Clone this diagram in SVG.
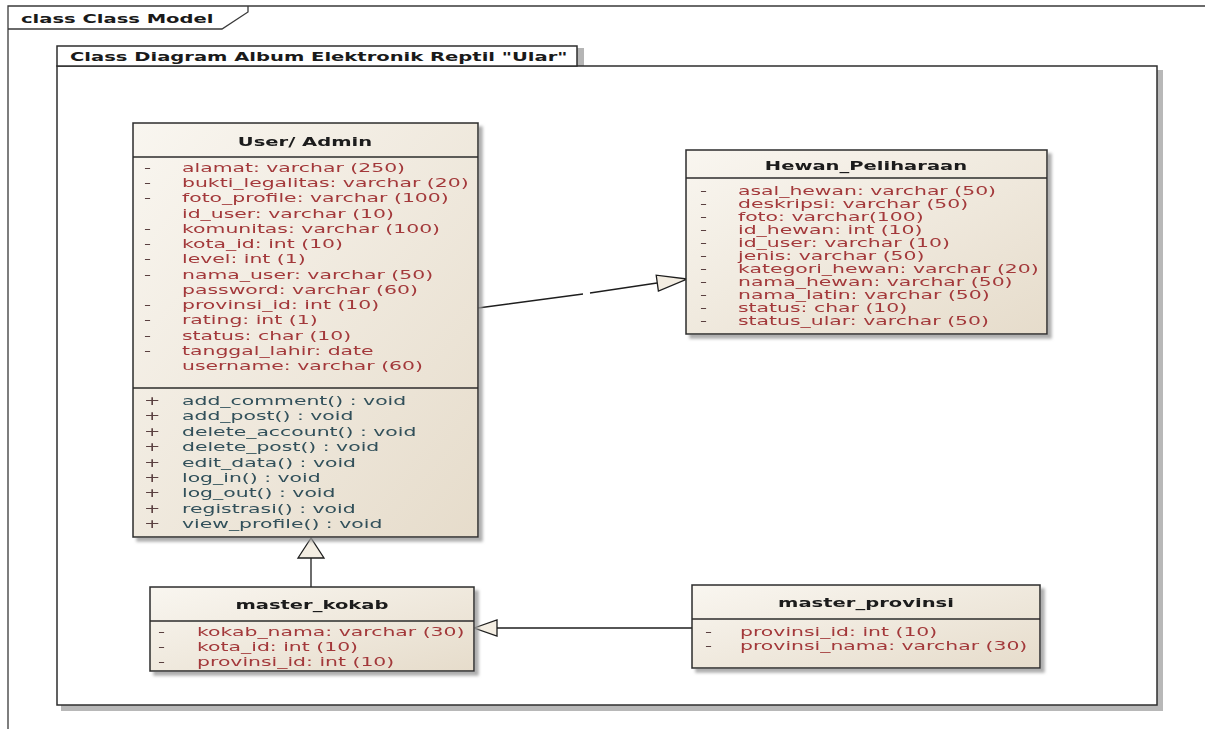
<svg xmlns="http://www.w3.org/2000/svg" width="1205" height="729" viewBox="0 0 1205 729">
<defs>
<linearGradient id="cls" x1="0" y1="0" x2="1" y2="1">
<stop offset="0" stop-color="#f9f6f0"/>
<stop offset="1" stop-color="#e6dccb"/>
</linearGradient>
<filter id="sh" x="-5%" y="-5%" width="115%" height="115%">
<feOffset dx="4" dy="4" in="SourceAlpha" result="o"/>
<feGaussianBlur in="o" stdDeviation="1.5" result="b"/>
<feFlood flood-color="#9a9a9a" flood-opacity="0.8"/>
<feComposite in2="b" operator="in" result="s"/>
<feMerge><feMergeNode in="s"/><feMergeNode in="SourceGraphic"/></feMerge>
</filter>
</defs>
<style>
.box{fill:url(#cls);stroke:#2b2b2b;stroke-width:1.5}
.sep{stroke:#2b2b2b;stroke-width:1.3}
.ttl{font-family:"DejaVu Sans",sans-serif;font-weight:bold;font-size:11.5px;fill:#1a1a1a}
.at{font-family:"DejaVu Sans",sans-serif;font-size:12px;fill:#a3393a}
.op{font-family:"DejaVu Sans",sans-serif;font-size:12px;fill:#30505a}
.mk{font-family:"DejaVu Sans",sans-serif;font-size:11.5px;fill:#5a4040}
.frm{fill:none;stroke:#3a3a3a;stroke-width:1.3}
.ln{fill:none;stroke:#1e1e1e;stroke-width:1.3}
.tri{fill:#f3ede2;stroke:#1e1e1e;stroke-width:1.3}
</style>
<rect width="1205" height="729" fill="#ffffff"/>

<g id="frame-outer">
<path class="frm" d="M8,729 L8,6 L1205,6"/>
<path class="frm" d="M8,29 L222,29 L248,12 L248,6"/>
<g transform="scale(1.7 1)"><text class="ttl" x="12.35" y="23">class Class Model</text></g>
</g>

<g id="frame-inner">
<rect x="577" y="48" width="7" height="18" fill="#b5b5b5"/>
<rect x="1157" y="70" width="6" height="641" fill="#b8b8b8"/>
<rect x="61" y="705" width="1102" height="6" fill="#b8b8b8"/>
<rect x="57" y="66" width="1100" height="639" fill="#ffffff" stroke="#2e2e2e" stroke-width="1.5"/>
<rect x="57" y="46" width="520" height="20" fill="#ffffff" stroke="#2e2e2e" stroke-width="1.5"/>
<g transform="scale(1.7 1)"><text class="ttl" x="41.2" y="61">Class Diagram Album Elektronik Reptil "Ular"</text></g>
</g>

<g id="connectors">
<path class="ln" d="M478,308 L583,294 M590,293 L657,283"/>
<polygon class="tri" points="687,279 656.2,275.2 658.4,291"/>
<path class="ln" d="M311,587 L311,558"/>
<polygon class="tri" points="311,538 298,558 324,558"/>
<path class="ln" d="M692,628 L497,628"/>
<polygon class="tri" points="474,628 497,620 497,636"/>
</g>

<g id="user-admin" filter="url(#sh)">
<rect class="box" x="133" y="123" width="345" height="414"/>
<line class="sep" x1="133" y1="157" x2="478" y2="157"/>
<line class="sep" x1="133" y1="388" x2="478" y2="388"/>
<g transform="scale(1.7 1)">
<text class="ttl" x="179.4" y="146" text-anchor="middle">User/ Admin</text>
<g class="mk">
<text x="84.7" y="172">-</text><text x="84.7" y="187.25">-</text><text x="84.7" y="202.5">-</text>
<text x="84.7" y="233">-</text><text x="84.7" y="248.25">-</text><text x="84.7" y="263.5">-</text><text x="84.7" y="278.75">-</text>
<text x="84.7" y="309.25">-</text><text x="84.7" y="324.5">-</text><text x="84.7" y="339.75">-</text><text x="84.7" y="355">-</text>
</g>
<text class="at" x="107.06" y="172">alamat: varchar (250)</text>
<text class="at" x="107.06" y="187.25">bukti_legalitas: varchar (20)</text>
<text class="at" x="107.06" y="202.5">foto_profile: varchar (100)</text>
<text class="at" x="107.06" y="217.75">id_user: varchar (10)</text>
<text class="at" x="107.06" y="233">komunitas: varchar (100)</text>
<text class="at" x="107.06" y="248.25">kota_id: int (10)</text>
<text class="at" x="107.06" y="263.5">level: int (1)</text>
<text class="at" x="107.06" y="278.75">nama_user: varchar (50)</text>
<text class="at" x="107.06" y="294">password: varchar (60)</text>
<text class="at" x="107.06" y="309.25">provinsi_id: int (10)</text>
<text class="at" x="107.06" y="324.5">rating: int (1)</text>
<text class="at" x="107.06" y="339.75">status: char (10)</text>
<text class="at" x="107.06" y="355">tanggal_lahir: date</text>
<text class="at" x="107.06" y="370.25">username: varchar (60)</text>
<g class="mk">
<text x="84.7" y="405">+</text><text x="84.7" y="420.4">+</text><text x="84.7" y="435.8">+</text><text x="84.7" y="451.2">+</text><text x="84.7" y="466.6">+</text><text x="84.7" y="482">+</text><text x="84.7" y="497.4">+</text><text x="84.7" y="512.8">+</text><text x="84.7" y="528.2">+</text>
</g>
<text class="op" x="107.06" y="405">add_comment() : void</text>
<text class="op" x="107.06" y="420.4">add_post() : void</text>
<text class="op" x="107.06" y="435.8">delete_account() : void</text>
<text class="op" x="107.06" y="451.2">delete_post() : void</text>
<text class="op" x="107.06" y="466.6">edit_data() : void</text>
<text class="op" x="107.06" y="482">log_in() : void</text>
<text class="op" x="107.06" y="497.4">log_out() : void</text>
<text class="op" x="107.06" y="512.8">registrasi() : void</text>
<text class="op" x="107.06" y="528.2">view_profile() : void</text>
</g>
</g>

<g id="hewan-peliharaan" filter="url(#sh)">
<rect class="box" x="686" y="150" width="361" height="184"/>
<line class="sep" x1="686" y1="178" x2="1047" y2="178"/>
<g transform="scale(1.7 1)">
<text class="ttl" x="509.4" y="170" text-anchor="middle">Hewan_Peliharaan</text>
<g class="mk">
<text x="411.8" y="195">-</text><text x="411.8" y="208">-</text><text x="411.8" y="221">-</text><text x="411.8" y="234">-</text><text x="411.8" y="247">-</text><text x="411.8" y="260">-</text><text x="411.8" y="273">-</text><text x="411.8" y="286">-</text><text x="411.8" y="299">-</text><text x="411.8" y="312">-</text><text x="411.8" y="325">-</text>
</g>
<text class="at" x="434.1" y="195">asal_hewan: varchar (50)</text>
<text class="at" x="434.1" y="208">deskripsi: varchar (50)</text>
<text class="at" x="434.1" y="221">foto: varchar(100)</text>
<text class="at" x="434.1" y="234">id_hewan: int (10)</text>
<text class="at" x="434.1" y="247">id_user: varchar (10)</text>
<text class="at" x="434.1" y="260">jenis: varchar (50)</text>
<text class="at" x="434.1" y="273">kategori_hewan: varchar (20)</text>
<text class="at" x="434.1" y="286">nama_hewan: varchar (50)</text>
<text class="at" x="434.1" y="299">nama_latin: varchar (50)</text>
<text class="at" x="434.1" y="312">status: char (10)</text>
<text class="at" x="434.1" y="325">status_ular: varchar (50)</text>
</g>
</g>

<g id="master-kokab" filter="url(#sh)">
<rect class="box" x="150" y="587" width="324" height="84"/>
<line class="sep" x1="150" y1="621" x2="474" y2="621"/>
<g transform="scale(1.7 1)">
<text class="ttl" x="183.5" y="609" text-anchor="middle">master_kokab</text>
<g class="mk"><text x="92.9" y="636">-</text><text x="92.9" y="651">-</text><text x="92.9" y="666">-</text></g>
<text class="at" x="115.9" y="636">kokab_nama: varchar (30)</text>
<text class="at" x="115.9" y="651">kota_id: int (10)</text>
<text class="at" x="115.9" y="666">provinsi_id: int (10)</text>
</g>
</g>

<g id="master-provinsi" filter="url(#sh)">
<rect class="box" x="692" y="585" width="348" height="83"/>
<line class="sep" x1="692" y1="619" x2="1040" y2="619"/>
<g transform="scale(1.7 1)">
<text class="ttl" x="509.4" y="607" text-anchor="middle">master_provinsi</text>
<g class="mk"><text x="414.7" y="636">-</text><text x="414.7" y="650">-</text></g>
<text class="at" x="435.3" y="636">provinsi_id: int (10)</text>
<text class="at" x="435.3" y="650">provinsi_nama: varchar (30)</text>
</g>
</g>
</svg>
